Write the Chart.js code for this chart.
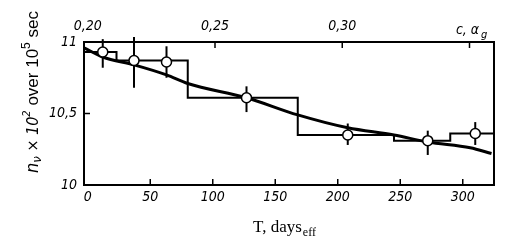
<!DOCTYPE html>
<html>
<head>
<meta charset="utf-8">
<script src="https://cdn.jsdelivr.net/npm/chart.js@4.4.0/dist/chart.umd.min.js"></script>
<style>
  html, body { margin: 0; padding: 0; background: #fff; }
</style>
</head>
<body>
<canvas id="chart" width="526" height="250"></canvas>
<script>
// measured points with error bars (T in effective days)
const pointDays = [12, 37, 63, 127, 208, 272, 310]
const pointValues = [10.93, 10.87, 10.86, 10.61, 10.35, 10.31, 10.36]
const errHigh = [11.02, 11.035, 10.97, 10.69, 10.43, 10.38, 10.44]
const errLow = [10.82, 10.68, 10.75, 10.51, 10.28, 10.21, 10.28]

// histogram (step) line: bin edges and levels
const stepEdges = [-3, 23, 80, 168, 245, 290, 325]
const stepLevels = [10.93, 10.87, 10.61, 10.35, 10.31, 10.36]

// smooth fitted curve
const curveDays = [-3, 12, 37, 63, 80, 127, 168, 208, 245, 272, 306, 323]
const curveValues = [10.96, 10.895, 10.84, 10.77, 10.71, 10.61, 10.49, 10.40, 10.35, 10.30, 10.26, 10.22]

// axes
const dayTicks = [0, 50, 100, 150, 200, 250, 300]
const dayTickLabels = ['0', '50', '100', '150', '200', '250', '300']
const valueTicks = [10, 10.5, 11]
const valueTickLabels = ['10', '10,5', '11']
const concTicks = [0.20, 0.25, 0.30, 0.35]
const concTickLabels = ['0,20', '0,25', '0,30', '']
const concAxisName = ['c, α', 'g']
const xTitle = ['T, days', 'eff']

const dayMin = -3, dayMax = 325
const concPerDay = 0.05 / 101.8
const conc0 = 0.20

const tickFont = { family: '"Liberation Sans Narrow", "DejaVu Sans Condensed", "DejaVu Sans", sans-serif', size: 14, style: 'italic' }

let stepData = stepLevels.map((v, i) => ({ x: stepEdges[i], y: v }))
stepData.push({ x: stepEdges[stepEdges.length - 1], y: stepLevels[stepLevels.length - 1] })

//draws frame, inward ticks, error bars and the titles
const decoPlugin = {
    id: 'deco',
    beforeDatasetsDraw(chart) {
        const ctx = chart.ctx
        const x = chart.scales.x, y = chart.scales.y
        ctx.save()
        ctx.strokeStyle = '#000'
        ctx.lineWidth = 2
        for (let i = 0; i < pointDays.length; i++) {
            const px = x.getPixelForValue(pointDays[i])
            ctx.beginPath()
            ctx.moveTo(px, y.getPixelForValue(errHigh[i]))
            ctx.lineTo(px, y.getPixelForValue(errLow[i]))
            ctx.stroke()
        }
        ctx.restore()
    },
    afterDraw(chart) {
        const ctx = chart.ctx
        const a = chart.chartArea
        const x = chart.scales.x, y = chart.scales.y, x2 = chart.scales.x2
        ctx.save()
        ctx.strokeStyle = '#000'
        ctx.lineWidth = 2
        ctx.strokeRect(a.left, a.top, a.right - a.left, a.bottom - a.top)

        ctx.lineWidth = 1.5
        dayTicks.forEach(v => {
            if (v === 0) return
            const px = x.getPixelForValue(v)
            ctx.beginPath(); ctx.moveTo(px, a.bottom); ctx.lineTo(px, a.bottom - 6); ctx.stroke()
        })
        concTicks.forEach(v => {
            if (v === 0.20) return
            const px = x2.getPixelForValue(v)
            ctx.beginPath(); ctx.moveTo(px, a.top); ctx.lineTo(px, a.top + 6); ctx.stroke()
        })
        const py = y.getPixelForValue(10.5)
        ctx.beginPath(); ctx.moveTo(a.left, py); ctx.lineTo(a.left + 6, py); ctx.stroke()

        ctx.fillStyle = '#000'
        // top axis name
        const cx = x2.getPixelForValue(0.35)
        ctx.font = 'italic 14px ' + tickFont.family
        ctx.textBaseline = 'alphabetic'
        ctx.textAlign = 'left'
        const w1 = ctx.measureText(concAxisName[0]).width
        ctx.fillText(concAxisName[0], cx - w1 / 2 - 2, 34)
        ctx.font = 'italic 11px ' + tickFont.family
        ctx.fillText(concAxisName[1], cx + w1 / 2, 38)

        // x title
        ctx.font = '17px "Liberation Serif", "DejaVu Serif", serif'
        const t1 = ctx.measureText(xTitle[0]).width
        ctx.font = '12px "Liberation Serif", "DejaVu Serif", serif'
        const t2 = ctx.measureText(xTitle[1]).width
        let sx = 284 - (t1 + t2) / 2
        ctx.font = '17px "Liberation Serif", "DejaVu Serif", serif'
        ctx.fillText(xTitle[0], sx, 232)
        ctx.font = '12px "Liberation Serif", "DejaVu Serif", serif'
        ctx.fillText(xTitle[1], sx + t1 + 1, 236)

        // y title, rotated
        const sans = '"Liberation Sans", "DejaVu Sans", sans-serif'
        const parts = [
            { t: 'n', f: 'italic 18px ' + tickFont.family, dy: 0 },
            { t: 'ν', f: 'italic 13px ' + tickFont.family, dy: 3 },
            { t: ' × 10', f: 'italic 16px ' + tickFont.family, dy: 0 },
            { t: '2', f: 'italic 11px ' + tickFont.family, dy: -8 },
            { t: ' over 10', f: '17px ' + sans, dy: 0 },
            { t: '5', f: '12px ' + sans, dy: -8 },
            { t: ' sec', f: '17px ' + sans, dy: 0 }
        ]
        let total = 0
        parts.forEach(p => { ctx.font = p.f; p.w = ctx.measureText(p.t).width; total += p.w })
        ctx.translate(38, 92 + total / 2)
        ctx.rotate(-Math.PI / 2)
        let off = 0
        parts.forEach(p => {
            ctx.font = p.f
            ctx.fillText(p.t, off, p.dy)
            off += p.w
        })
        ctx.restore()
    }
}

new Chart(document.getElementById('chart'), {
    type: 'scatter',
    data: {
        datasets: [{
            label: 'measured',
            data: pointDays.map((d, i) => ({ x: d, y: pointValues[i] })),
            pointRadius: 5,
            pointBackgroundColor: '#fff',
            pointBorderColor: '#000',
            pointBorderWidth: 1.5,
            showLine: false
        }, {
            label: 'step',
            data: stepData,
            showLine: true,
            stepped: 'before',
            borderColor: '#000',
            borderWidth: 2,
            pointRadius: 0
        }, {
            label: 'fit',
            data: curveDays.map((d, i) => ({ x: d, y: curveValues[i] })),
            showLine: true,
            cubicInterpolationMode: 'monotone',
            borderColor: '#000',
            borderWidth: 3,
            pointRadius: 0
        }]
    },
    options: {
        responsive: false,
        animation: false,
        layout: { padding: { right: 32 } },
        plugins: { legend: { display: false }, tooltip: { enabled: false } },
        scales: {
            x: {
                type: 'linear',
                position: 'bottom',
                min: dayMin,
                max: dayMax,
                afterBuildTicks: s => { s.ticks = dayTicks.map(v => ({ value: v })) },
                afterFit: s => { s.height = 65 },
                grid: { display: false, drawTicks: false },
                border: { display: false },
                ticks: {
                    color: '#000',
                    font: tickFont,
                    padding: 4,
                    maxRotation: 0,
                    callback: (v, i) => dayTickLabels[i]
                }
            },
            x2: {
                type: 'linear',
                position: 'top',
                min: conc0 + dayMin * concPerDay,
                max: conc0 + dayMax * concPerDay,
                afterBuildTicks: s => { s.ticks = concTicks.map(v => ({ value: v })) },
                afterFit: s => { s.height = 42 },
                grid: { display: false, drawTicks: false },
                border: { display: false },
                ticks: {
                    color: '#000',
                    font: tickFont,
                    padding: 7,
                    maxRotation: 0,
                    callback: (v, i) => concTickLabels[i]
                }
            },
            y: {
                type: 'linear',
                min: 10,
                max: 11,
                afterBuildTicks: s => { s.ticks = valueTicks.map(v => ({ value: v })) },
                afterFit: s => { s.width = 84 },
                grid: { display: false, drawTicks: false },
                border: { display: false },
                ticks: {
                    color: '#000',
                    font: tickFont,
                    padding: 7,
                    callback: (v, i) => valueTickLabels[i]
                }
            }
        }
    },
    plugins: [decoPlugin]
})
</script>
</body>
</html>
